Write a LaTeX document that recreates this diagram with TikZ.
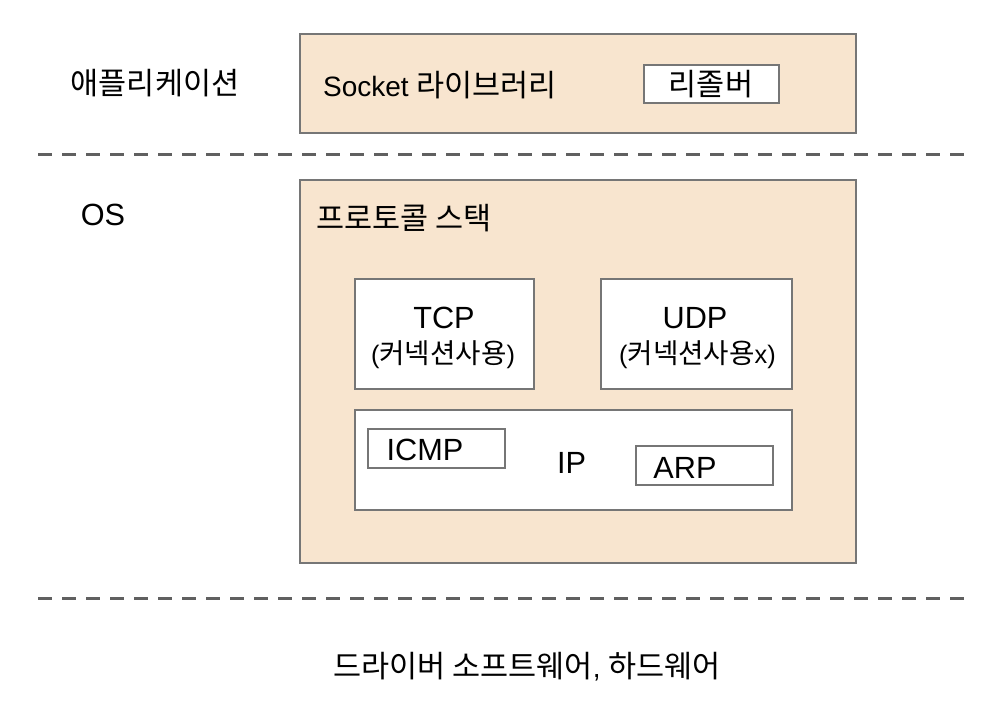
\documentclass[tikz,border=0pt]{standalone}
\usepackage{fontspec}
\setmainfont{Liberation Sans}
\newfontfamily\krfont[Scale=1.09]{Noto Sans CJK KR}
\definecolor{layerfill}{HTML}{F8E5CF}
\definecolor{boxline}{HTML}{767676}
\definecolor{dashline}{HTML}{606060}

\begin{document}
\begin{tikzpicture}[x=0.75pt, y=-0.75pt,
    layer/.style={draw=boxline, fill=layerfill, line width=1pt, minimum width=417pt},
    unit/.style={draw=boxline, fill=white, line width=1pt},
    txt/.style={font=\fontsize{21}{25}\selectfont, inner sep=0pt},
    boxtxt/.style={font=\fontsize{23}{27}\selectfont, inner sep=0pt},
    subtxt/.style={font=\fontsize{19}{23}\selectfont, inner sep=0pt},
    divider/.style={dashline, line width=2.25pt, dash pattern=on 10.5pt off 7.5pt}]
    \useasboundingbox (0,0) rectangle (1006,726);

    % Application layer
    \node[txt] (apptitle) at (155,83) {\krfont 애플리케이션};
    \node[layer, minimum height=74.25pt] (app) at (578,83.5) {};
    \node[txt] (socket) at (440,85) {Socket {\krfont 라이브러리}};
    \node[unit, minimum width=101.25pt, minimum height=28.5pt] (resolver) at (711.5,84) {};
    \node[txt] (resolvertxt) at (711,84) {\krfont 리졸버};

    % Dividers
    \coordinate (topleft) at (38,154);
    \coordinate (topright) at (968,154);
    \draw[divider] (topleft) -- (topright);
    \coordinate (bottomleft) at (38,598);
    \coordinate (bottomright) at (968,598);
    \draw[divider] (bottomleft) -- (bottomright);

    % OS layer
    \node[boxtxt] (ostitle) at (103,215) {OS};
    \node[layer, minimum height=287.25pt] (os) at (578,371.5) {};
    \node[txt, anchor=west] (stack) at (316,218) {\krfont 프로토콜 스택};

    % TCP and UDP
    \node[unit, minimum width=134.25pt, minimum height=82.5pt] (tcp) at (444.5,334) {};
    \node[boxtxt] (tcptxt) at (444,318) {TCP};
    \node[subtxt] (tcpsub) at (443,355) {({\krfont 커넥션사용})};
    \node[unit, minimum width=143.25pt, minimum height=82.5pt] (udp) at (696.5,334) {};
    \node[boxtxt] (udptxt) at (695,318) {UDP};
    \node[subtxt] (udpsub) at (697.5,355) {({\krfont 커넥션사용}x)};

    % IP with ICMP and ARP
    \node[unit, minimum width=327.75pt, minimum height=75pt] (ip) at (573.5,460) {};
    \node[boxtxt] (iptxt) at (571.5,462.5) {IP};
    \node[unit, minimum width=102.75pt, minimum height=29.25pt] (icmp) at (436.5,448.5) {};
    \node[boxtxt] (icmptxt) at (425,450) {ICMP};
    \node[unit, minimum width=102.75pt, minimum height=29.25pt] (arp) at (704.5,465.5) {};
    \node[boxtxt] (arptxt) at (685,468) {ARP};

    % Drivers and hardware
    \node[txt] (hw) at (527,667) {{\krfont 드라이버 소프트웨어}, {\krfont 하드웨어}};
\end{tikzpicture}
\end{document}
